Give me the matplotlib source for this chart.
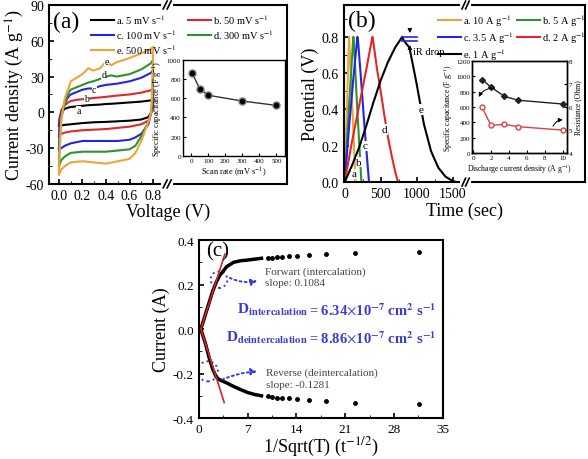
import matplotlib.pyplot as plt
from matplotlib.patches import Ellipse
from matplotlib.ticker import MultipleLocator

plt.rcParams['font.family'] = ['Liberation Serif', 'DejaVu Serif']
plt.rcParams['mathtext.fontset'] = 'stix'
plt.rcParams['axes.unicode_minus'] = False
plt.rcParams['axes.linewidth'] = 1.5
plt.rcParams['xtick.direction'] = 'in'
plt.rcParams['ytick.direction'] = 'in'

# ---- (a) cyclic voltammetry -------------------------------------------
cv_v_up = [0.0, 0.005, 0.02, 0.05, 0.08, 0.1, 0.15, 0.2, 0.25, 0.29, 0.35,
           0.4, 0.445, 0.49, 0.6, 0.7, 0.78, 0.8]
cv_v_down = [0.8, 0.795, 0.785, 0.76, 0.7, 0.65, 0.6, 0.5, 0.4, 0.3, 0.2,
             0.1, 0.05, 0.02, 0.0]
cv_labels = ['a. 5 mV s$^{-1}$', 'b. 50 mV s$^{-1}$', 'c. 100 mV s$^{-1}$',
             'd. 300 mV s$^{-1}$', 'e. 500 mV s$^{-1}$']
cv_colors = ['black', '#e02828', '#2424e8', '#2e932e', '#eea43a']
cv_up = [
    [-11, -5, 0, 3, 4, 4.5, 5, 5.5, 6, 6.2, 6.5, 7, 7.2, 7.5, 8.3, 9, 10, 11],
    [-20, -8, 2, 6, 8.5, 9.5, 10.5, 11, 11.5, 12, 12.5, 13, 13.5, 14, 15, 16.5, 18.5, 19.5],
    [-31, -15, 0, 8, 13, 15, 17, 19, 20, 20, 22, 23, 23.5, 24, 26, 29, 33, 35],
    [-45, -25, -5, 8, 16, 19, 21, 23, 25, 26, 28, 30, 31, 30, 32, 36, 41, 44],
    [-52, -35, -5, 12, 20, 26, 29, 32, 37, 35, 37, 42.5, 39.5, 42, 45.5, 49.5, 53, 55],
]
cv_down = [
    [8, 1, 0, -4, -6, -6.5, -7, -7.5, -8, -8.3, -9, -10, -10.5, -11, -11],
    [16, 3, 0, -7, -10, -11, -12, -13, -14, -14.5, -15, -16, -17, -18, -20],
    [30, 8, 0, -10, -18, -21, -23, -24, -24, -24, -24, -26, -28, -30, -31],
    [40, 15, 0, -8, -20, -28, -31, -32, -33, -33, -33, -34, -37, -40, -45],
    [55, 25, 0, -8, -24, -34, -39, -41, -43, -42, -41, -42, -45, -48, -52],
]
cv_tag_pos = [(0.165, 1.5), (0.235, 11.5), (0.30, 19.5), (0.38, 31.5), (0.405, 42.5)]

scan_rate = [5, 50, 100, 300, 500]
cap_scan = [860, 695, 630, 570, 525]

# ---- (b) galvanostatic charge/discharge -------------------------------
gcd_labels = ['a. 10 A g$^{-1}$', 'b. 5 A g$^{-1}$', 'c. 3.5 A g$^{-1}$',
              'd. 2 A g$^{-1}$', 'e. 1 A g$^{-1}$']
gcd_colors = ['#eea43a', '#2e932e', '#2424e8', '#e02828', 'black']
gcd_t = [
    [0, 30, 60, 64, 110, 150],
    [0, 60, 120, 126, 175, 232],
    [0, 60, 120, 176, 185, 230, 280, 338],
    [0, 100, 200, 300, 385, 395, 450, 500, 550, 600, 650, 700, 740],
    [0, 100, 200, 300, 400, 500, 600, 700, 800, 820, 900, 1000, 1100, 1200,
     1300, 1400, 1500, 1550],
]
gcd_v = [
    [0, 0.4, 0.8, 0.78, 0.38, 0],
    [0, 0.42, 0.8, 0.78, 0.4, 0],
    [0, 0.3, 0.57, 0.8, 0.78, 0.55, 0.28, 0],
    [0, 0.22, 0.42, 0.62, 0.80, 0.78, 0.62, 0.5, 0.37, 0.25, 0.15, 0.06, 0],
    [0, 0.09, 0.19, 0.31, 0.44, 0.56, 0.66, 0.74, 0.80, 0.78, 0.74, 0.54,
     0.32, 0.17, 0.08, 0.03, 0.006, 0],
]
gcd_tag_pos = [(130, 0.045), (199, 0.11), (285, 0.2), (555, 0.29), (1060, 0.40)]

current_density = [1, 2, 3.5, 5, 10]
cap_current = [960, 860, 740, 690, 640]
resistance = [6.0, 5.2, 5.25, 5.15, 5.0]

# ---- (c) current vs 1/sqrt(t) -----------------------------------------
fwd_x = [0.3, 1.0, 1.5, 2.0, 2.5, 3.0, 3.5, 4.0, 5.0, 6.0, 7.0, 8.0, 9.0]
fwd_y = [0.0, 0.07, 0.12, 0.17, 0.21, 0.24, 0.26, 0.28, 0.30, 0.307, 0.31, 0.314, 0.318]
rev_x = [0.3, 1.0, 1.5, 2.0, 2.5, 3.0, 3.5, 4.0, 5.0, 6.0, 7.0, 8.0, 9.0]
rev_y = [0.0, -0.07, -0.13, -0.18, -0.215, -0.228, -0.235, -0.242, -0.258,
         -0.272, -0.285, -0.294, -0.3]
tail_x = [10.0, 10.5, 11.2, 12.0, 12.9, 14.1, 15.8, 18.3, 22.4, 31.6]
fwd_tail_y = [0.32, 0.321, 0.323, 0.325, 0.327, 0.329, 0.333, 0.337, 0.34, 0.346]
rev_tail_y = [-0.303, -0.305, -0.308, -0.31, -0.312, -0.315, -0.32, -0.325,
              -0.331, -0.338]
fit_fwd_x, fit_fwd_y = [0.3, 3.75], [0.0, 0.337]
fit_rev_x, fit_rev_y = [0.3, 3.65], [0.0, -0.33]


def axis_break(ax, x0, dx, gap):
    trans = ax.get_xaxis_transform()
    for y in (0, 1):
        ax.plot([x0 - gap, x0 + gap], [y, y], color='white', lw=3,
                transform=trans, clip_on=False, zorder=5)
        for xc in (x0 - gap / 2, x0 + gap / 2):
            ax.plot([xc - dx, xc + dx], [y - 0.022, y + 0.022], color='k',
                    lw=1.2, transform=trans, clip_on=False, zorder=6)


fig = plt.figure(figsize=(5.88, 4.6), dpi=100)
order = [0, 2, 4, 1, 3]
leg_kw = dict(ncol=2, frameon=False, fontsize=7.5, loc='upper left',
              handlelength=2.2, labelspacing=0.15, borderpad=0, handletextpad=0.2)

# panel (a)
ax = fig.add_axes([0.0833, 0.598, 0.405, 0.389])
handles = []
for i in range(5):
    h, = ax.plot(cv_v_up + cv_v_down, cv_up[i] + cv_down[i], color=cv_colors[i], lw=1.5)
    handles.append(h)
    ax.text(cv_tag_pos[i][0], cv_tag_pos[i][1], 'abcde'[i], fontsize=7,
            ha='center', va='center', zorder=4,
            bbox=dict(facecolor='white', edgecolor='none', pad=0.3))
ax.set_xlim(-0.085, 1.94)
ax.set_ylim(-60, 90)
ax.set_xticks([0.0, 0.2, 0.4, 0.6, 0.8])
ax.set_yticks([-60, -30, 0, 30, 60, 90])
ax.yaxis.set_minor_locator(MultipleLocator(15))
ax.set_xticks([0.1, 0.3, 0.5, 0.7], minor=True)
ax.tick_params(labelsize=10, width=1.2)
ax.set_xlabel('Voltage (V)', fontsize=13, labelpad=1)
ax.set_ylabel('Current density (A g$^{-1}$)', fontsize=13, labelpad=0)
ax.legend([handles[k] for k in order], [cv_labels[k] for k in order],
          bbox_to_anchor=(0.155, 0.99), columnspacing=1.1, **leg_kw)
ax.text(0.017, 0.91, '(a)', transform=ax.transAxes, fontsize=17, va='center')
axis_break(ax, 0.92, 0.017, 0.034)

axi = fig.add_axes([0.311, 0.659, 0.1735, 0.209])
axi.plot(scan_rate, cap_scan, '-o', color='#333333', lw=1, ms=5,
         mfc='black', mec='#777777')
axi.set_xlim(-50, 550)
axi.set_ylim(0, 1000)
axi.set_xticks(range(0, 501, 100))
axi.set_yticks(range(0, 1001, 200))
for s in axi.spines.values():
    s.set_linewidth(1)
axi.tick_params(labelsize=5, length=2, width=0.8, pad=1.5)
axi.set_xlabel('Scan rate (mV s$^{-1}$)', fontsize=6, labelpad=1)
axi.set_ylabel('Specific capacitance (F g$^{-1}$)', fontsize=6, labelpad=1)

# panel (b)
bx = fig.add_axes([0.585, 0.602, 0.41, 0.385])
handles = []
for i in range(5):
    h, = bx.plot(gcd_t[i], gcd_v[i], color=gcd_colors[i], lw=1.5)
    handles.append(h)
    bx.text(gcd_tag_pos[i][0], gcd_tag_pos[i][1], 'abcde'[i], fontsize=8,
            ha='center', va='center', zorder=4,
            bbox=dict(facecolor='white', edgecolor='none', pad=0.5))
bx.set_xlim(-10, 3340)
bx.set_ylim(0, 0.975)
bx.set_xticks([0, 500, 1000, 1500])
bx.set_yticks([0.0, 0.2, 0.4, 0.6, 0.8])
bx.yaxis.set_minor_locator(MultipleLocator(0.1))
bx.set_xticks([250, 750, 1250], minor=True)
bx.tick_params(labelsize=10, width=1.2)
bx.set_xlabel('Time (sec)', fontsize=13, labelpad=1)
bx.set_ylabel('Potential (V)', fontsize=13, labelpad=2)
bx.legend([handles[k] for k in order], [gcd_labels[k] for k in order],
          bbox_to_anchor=(0.369, 0.99), columnspacing=0.3, **leg_kw)
bx.text(0.017, 0.915, '(b)', transform=bx.transAxes, fontsize=17, va='center')
bx.plot([800, 1000], [0.80, 0.80], color='#2424e8', lw=1.2)
bx.plot([800, 1000], [0.775, 0.775], color='#2424e8', lw=1.2)
bx.annotate('', xy=(905, 0.805), xytext=(905, 0.86),
            arrowprops=dict(arrowstyle='-|>', color='k', lw=0.8, mutation_scale=6))
bx.annotate('', xy=(905, 0.77), xytext=(905, 0.72),
            arrowprops=dict(arrowstyle='-|>', color='k', lw=0.8, mutation_scale=6))
bx.text(950, 0.72, 'iR drop', fontsize=7.5, va='center')
axis_break(bx, 1680, 25, 50)

bxi = fig.add_axes([0.803, 0.665, 0.161, 0.2])
bxi.plot(current_density, cap_current, '-D', color='#222222', lw=1, ms=3)
bxi.set_xlim(-0.1, 10.45)
bxi.set_ylim(0, 1200)
bxi.set_xticks(range(0, 11, 2))
bxi.set_yticks(range(0, 1201, 200))
bxi.annotate('', xy=(0.5, 700), xytext=(2.7, 840),
             arrowprops=dict(arrowstyle='-|>', color='k', lw=0.7, mutation_scale=6,
                             connectionstyle='arc3,rad=0.4'))
bxr = bxi.twinx()
bxr.plot(current_density, resistance, '-o', color='#e04040', lw=1, ms=3.5,
         mfc='white', mec='#e04040')
bxr.set_ylim(4, 8)
bxr.set_yticks([4, 5, 6, 7, 8])
bxr.annotate('', xy=(10.3, 5.45), xytext=(8.8, 5.05),
             arrowprops=dict(arrowstyle='-|>', color='k', lw=0.7, mutation_scale=6,
                             connectionstyle='arc3,rad=-0.4'))
for a in (bxi, bxr):
    for s in a.spines.values():
        s.set_linewidth(1)
    a.tick_params(labelsize=5, length=2, width=0.8, pad=1.5)
bxi.set_xlabel('Discharge current density (A g$^{-1}$)', fontsize=5.5, labelpad=1)
bxi.set_ylabel('Specific capacitance (F g$^{-1}$)', fontsize=5.5, labelpad=1)
bxr.set_ylabel('Resistance (Ohm)', fontsize=5.5, labelpad=1)

# panel (c)
cx = fig.add_axes([0.338, 0.089, 0.415, 0.387])
cx.plot(fwd_x, fwd_y, color='black', lw=2.5)
cx.plot(rev_x, rev_y, color='black', lw=2.5)
cx.plot(tail_x, fwd_tail_y, 'o', color='black', ms=2.5)
cx.plot(tail_x, rev_tail_y, 'o', color='black', ms=2.5)
cx.plot(fit_fwd_x, fit_fwd_y, color='#e02020', lw=1.2)
cx.plot(fit_rev_x, fit_rev_y, color='#e02020', lw=1.2)
cx.set_xlim(0, 35)
cx.set_ylim(-0.4, 0.4)
cx.set_xticks(range(0, 36, 7))
cx.set_yticks([-0.4, -0.2, 0.0, 0.2, 0.4])
cx.xaxis.set_minor_locator(MultipleLocator(3.5))
cx.yaxis.set_minor_locator(MultipleLocator(0.1))
cx.tick_params(labelsize=9.5, width=1.2)
cx.set_xlabel('1/Sqrt(T) (t$^{-1/2}$)', fontsize=13, labelpad=0)
cx.set_ylabel('Current (A)', fontsize=13, labelpad=2)
cx.text(0.03, 0.94, '(c)', transform=cx.transAxes, fontsize=15, va='center')

blue = '#3a3ad8'
cx.add_patch(Ellipse((2.9, 0.222), 2.4, 0.075, fill=False, ec=blue, ls=':', lw=1.4))
cx.add_patch(Ellipse((1.3, -0.19), 2.9, 0.09, fill=False, ec=blue, ls=':', lw=1.4))
cx.annotate('', xy=(8.8, 0.22), xytext=(4.1, 0.235),
            arrowprops=dict(arrowstyle='-|>', color=blue, lw=1.4, ls=':',
                            connectionstyle='arc3,rad=0.2', mutation_scale=9))
cx.annotate('', xy=(8.8, -0.19), xytext=(3.0, -0.232),
            arrowprops=dict(arrowstyle='-|>', color=blue, lw=1.4, ls=':',
                            connectionstyle='arc3,rad=-0.1', mutation_scale=9))
cx.text(9.5, 0.262, 'Forwart (intercalation)', fontsize=8, color='#444444', va='center')
cx.text(9.5, 0.21, 'slope: 0.1084', fontsize=8, color='#444444', va='center')
cx.text(9.65, -0.193, 'Reverse (deintercalation)', fontsize=8, color='#444444', va='center')
cx.text(9.65, -0.247, 'slope: -0.1281', fontsize=8, color='#444444', va='center')
d_left = dict(fontsize=11, color=blue, fontweight='bold', va='center', ha='right')
d_right = dict(fontsize=10.5, color=blue, fontweight='bold', va='center', ha='left')
cx.text(15.7, 0.09, r'D$_{\mathbf{intercalation}}$', **d_left)
cx.text(15.8, 0.09, r'= 6.34$\times$10$^{\mathbf{-7}}$ cm$^{\mathbf{2}}$ s$^{\mathbf{-1}}$',
        **d_right)
cx.text(15.7, -0.037, r'D$_{\mathbf{deintercalation}}$', **d_left)
cx.text(15.8, -0.037, r'= 8.86$\times$10$^{\mathbf{-7}}$ cm$^{\mathbf{2}}$ s$^{\mathbf{-1}}$',
        **d_right)

fig.savefig('out.png', dpi=100)
